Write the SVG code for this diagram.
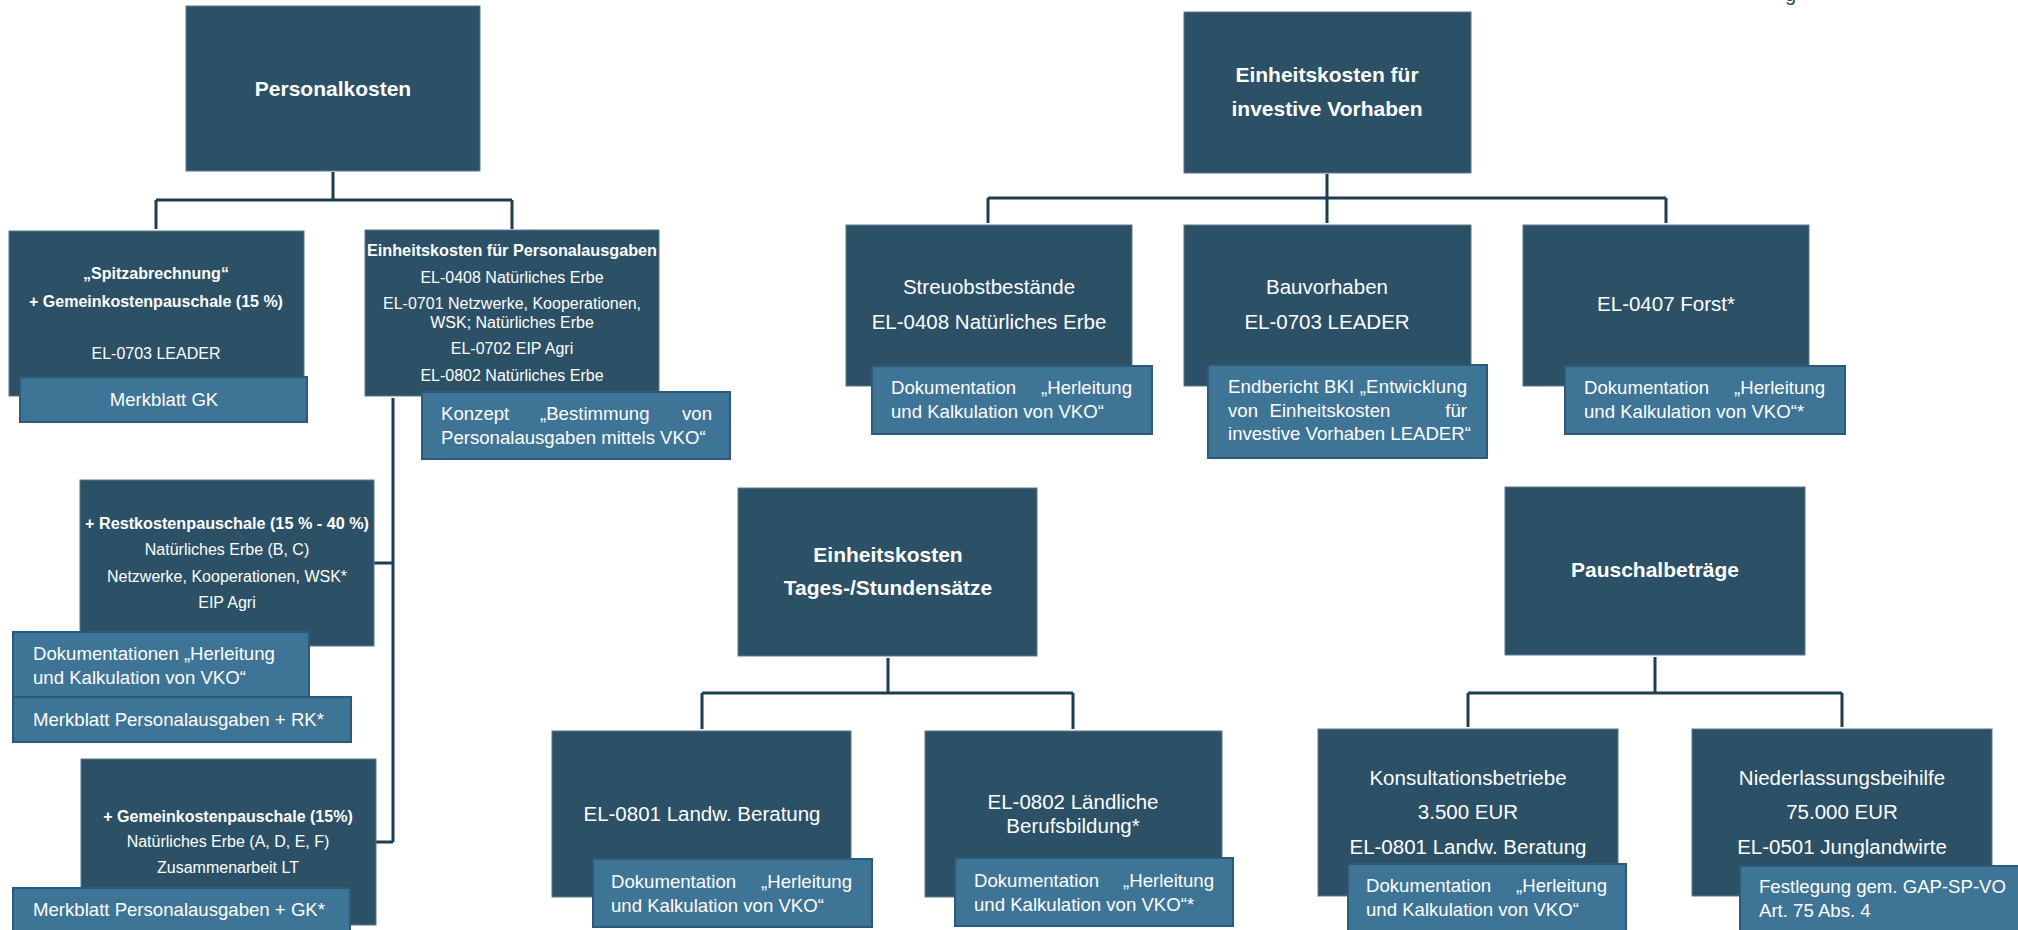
<svg xmlns="http://www.w3.org/2000/svg" width="2018" height="930" viewBox="0 0 2018 930">
<style>
.n{fill:#2c5166;stroke:#5d7889;stroke-width:1}
.d{fill:#3e7596;stroke:#2c5a78;stroke-width:2}
.c{stroke:#1f3d51;stroke-width:3;fill:none}
text{font-family:"Liberation Sans",Arial,sans-serif;fill:#ffffff}
.tb{font-size:21px;font-weight:bold;text-anchor:middle}
.t{font-size:20.5px;text-anchor:middle}
.s{font-size:16px;text-anchor:middle}
.sb{font-size:16px;font-weight:bold;text-anchor:middle}
.dt{font-size:18.6px}
.e{text-anchor:end}
.m{text-anchor:middle}
</style>
<rect width="2018" height="930" fill="#ffffff"/>
<text x="1785" y="0.5" style="font-size:20px;fill:#2b4b5e">g</text>

<g id="connectors">
<path class="c" d="M333,172 V200 M156,200 H512 M156,200 V229 M512,200 V229"/>
<path class="c" d="M393,398 V842 M374,563 H393 M376,842 H393"/>
<path class="c" d="M1327,174 V198 M988,198 H1666 M988,198 V223 M1327,198 V223 M1666,198 V223"/>
<path class="c" d="M888,658 V693 M702,693 H1073 M702,693 V729 M1073,693 V729"/>
<path class="c" d="M1655,657 V693 M1468,693 H1842 M1468,693 V727 M1842,693 V727"/>
</g>

<g id="personalkosten">
<rect class="n" x="186" y="6" width="294" height="165"/>
<text class="tb" x="333" y="96">Personalkosten</text>
</g>

<g id="spitzabrechnung">
<rect class="n" x="9" y="231" width="295" height="165"/>
<text class="sb" x="156" y="279">„Spitzabrechnung“</text>
<text class="sb" x="156" y="307">+ Gemeinkostenpauschale (15 %)</text>
<text class="s" x="156" y="359">EL-0703 LEADER</text>
</g>
<g id="merkblatt-gk">
<rect class="d" x="20" y="377" width="287" height="45"/>
<text class="dt m" x="164" y="406">Merkblatt GK</text>
</g>

<g id="ek-personalausgaben">
<rect class="n" x="365" y="230" width="294" height="166"/>
<text class="sb" x="512" y="256" textLength="290" lengthAdjust="spacingAndGlyphs">Einheitskosten für Personalausgaben</text>
<text class="s" x="512" y="283">EL-0408 Natürliches Erbe</text>
<text class="s" x="512" y="309">EL-0701 Netzwerke, Kooperationen,</text>
<text class="s" x="512" y="328">WSK; Natürliches Erbe</text>
<text class="s" x="512" y="354">EL-0702 EIP Agri</text>
<text class="s" x="512" y="381">EL-0802 Natürliches Erbe</text>
</g>
<g id="konzept">
<rect class="d" x="422" y="392" width="308" height="67"/>
<text class="dt" x="441" y="420">Konzept</text>
<text class="dt" x="540" y="420">„Bestimmung</text>
<text class="dt e" x="712" y="420">von</text>
<text class="dt" x="441" y="444">Personalausgaben mittels VKO“</text>
</g>

<g id="restkosten">
<rect class="n" x="80" y="480" width="294" height="166"/>
<text class="sb" x="227" y="529" textLength="284" lengthAdjust="spacingAndGlyphs">+ Restkostenpauschale (15 % - 40 %)</text>
<text class="s" x="227" y="555">Natürliches Erbe (B, C)</text>
<text class="s" x="227" y="582">Netzwerke, Kooperationen, WSK*</text>
<text class="s" x="227" y="608">EIP Agri</text>
</g>
<g id="dok-restkosten">
<rect class="d" x="13" y="632" width="296" height="67"/>
<text class="dt" x="33" y="660">Dokumentationen „Herleitung</text>
<text class="dt" x="33" y="684">und Kalkulation von VKO“</text>
</g>
<g id="merkblatt-rk">
<rect class="d" x="13" y="697" width="338" height="45"/>
<text class="dt" x="33" y="726">Merkblatt Personalausgaben + RK*</text>
</g>

<g id="gemeinkosten">
<rect class="n" x="81" y="759" width="295" height="166"/>
<text class="sb" x="228" y="822">+ Gemeinkostenpauschale (15%)</text>
<text class="s" x="228" y="847">Natürliches Erbe (A, D, E, F)</text>
<text class="s" x="228" y="873">Zusammenarbeit LT</text>
</g>
<g id="merkblatt-gk2">
<rect class="d" x="13" y="888" width="337" height="50"/>
<text class="dt" x="33" y="916">Merkblatt Personalausgaben + GK*</text>
</g>

<g id="ek-investiv">
<rect class="n" x="1184" y="12" width="287" height="161"/>
<text class="tb" x="1327" y="82">Einheitskosten für</text>
<text class="tb" x="1327" y="116">investive Vorhaben</text>
</g>

<g id="streuobst">
<rect class="n" x="846" y="225" width="286" height="161"/>
<text class="t" x="989" y="294">Streuobstbestände</text>
<text class="t" x="989" y="329">EL-0408 Natürliches Erbe</text>
</g>
<g id="dok-streuobst">
<rect class="d" x="872" y="366" width="280" height="68"/>
<text class="dt" x="891" y="394">Dokumentation</text>
<text class="dt e" x="1132" y="394">„Herleitung</text>
<text class="dt" x="891" y="418">und Kalkulation von VKO“</text>
</g>

<g id="bauvorhaben">
<rect class="n" x="1184" y="225" width="287" height="161"/>
<text class="t" x="1327" y="294">Bauvorhaben</text>
<text class="t" x="1327" y="329">EL-0703 LEADER</text>
</g>
<g id="endbericht">
<rect class="d" x="1208" y="365" width="279" height="93"/>
<text class="dt" x="1228" y="393" textLength="239" lengthAdjust="spacing">Endbericht BKI „Entwicklung</text>
<text class="dt" x="1228" y="417">von</text>
<text class="dt m" x="1330" y="417">Einheitskosten</text>
<text class="dt e" x="1467" y="417">für</text>
<text class="dt" x="1228" y="440">investive Vorhaben LEADER“</text>
</g>

<g id="forst">
<rect class="n" x="1523" y="225" width="286" height="161"/>
<text class="t" x="1666" y="311">EL-0407 Forst*</text>
</g>
<g id="dok-forst">
<rect class="d" x="1565" y="366" width="280" height="68"/>
<text class="dt" x="1584" y="394">Dokumentation</text>
<text class="dt e" x="1825" y="394">„Herleitung</text>
<text class="dt" x="1584" y="418">und Kalkulation von VKO“*</text>
</g>

<g id="ek-tagessaetze">
<rect class="n" x="738" y="488" width="299" height="168"/>
<text class="tb" x="888" y="562">Einheitskosten</text>
<text class="tb" x="888" y="595">Tages-/Stundensätze</text>
</g>

<g id="landw-beratung">
<rect class="n" x="552" y="731" width="299" height="166"/>
<text class="t" x="702" y="821">EL-0801 Landw. Beratung</text>
</g>
<g id="dok-beratung">
<rect class="d" x="593" y="859" width="279" height="68"/>
<text class="dt" x="611" y="888">Dokumentation</text>
<text class="dt e" x="852" y="888">„Herleitung</text>
<text class="dt" x="611" y="912">und Kalkulation von VKO“</text>
</g>

<g id="berufsbildung">
<rect class="n" x="925" y="731" width="297" height="166"/>
<text class="t" x="1073" y="809">EL-0802 Ländliche</text>
<text class="t" x="1073" y="833">Berufsbildung*</text>
</g>
<g id="dok-berufsbildung">
<rect class="d" x="955" y="858" width="278" height="68"/>
<text class="dt" x="974" y="887">Dokumentation</text>
<text class="dt e" x="1214" y="887">„Herleitung</text>
<text class="dt" x="974" y="911">und Kalkulation von VKO“*</text>
</g>

<g id="pauschalbetraege">
<rect class="n" x="1505" y="487" width="300" height="168"/>
<text class="tb" x="1655" y="577">Pauschalbeträge</text>
</g>

<g id="konsultationsbetriebe">
<rect class="n" x="1318" y="729" width="300" height="167"/>
<text class="t" x="1468" y="785">Konsultationsbetriebe</text>
<text class="t" x="1468" y="819">3.500 EUR</text>
<text class="t" x="1468" y="854">EL-0801 Landw. Beratung</text>
</g>
<g id="dok-konsultation">
<rect class="d" x="1348" y="864" width="278" height="72"/>
<text class="dt" x="1366" y="892">Dokumentation</text>
<text class="dt e" x="1607" y="892">„Herleitung</text>
<text class="dt" x="1366" y="916">und Kalkulation von VKO“</text>
</g>

<g id="niederlassungsbeihilfe">
<rect class="n" x="1692" y="729" width="300" height="167"/>
<text class="t" x="1842" y="785">Niederlassungsbeihilfe</text>
<text class="t" x="1842" y="819">75.000 EUR</text>
<text class="t" x="1842" y="854">EL-0501 Junglandwirte</text>
</g>
<g id="festlegung">
<rect class="d" x="1740" y="866" width="290" height="72"/>
<text class="dt" x="1759" y="893">Festlegung gem. GAP-SP-VO</text>
<text class="dt" x="1759" y="917">Art. 75 Abs. 4</text>
</g>
</svg>
